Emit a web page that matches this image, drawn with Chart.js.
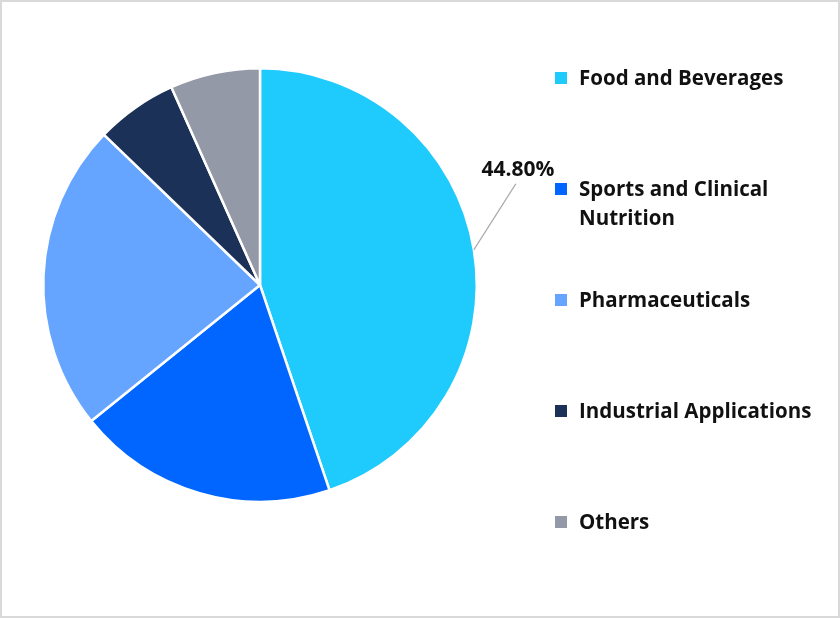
<!DOCTYPE html>
<html lang="en">
<head>
    <meta charset="UTF-8">
    <title>Market Share by Application</title>
    <script src="https://cdn.jsdelivr.net/npm/chart.js"></script>
    <style>
        html, body {
            margin: 0;
            padding: 0;
            background: #fff;
        }

        .frame {
            position: relative;
            width: 836px;
            height: 614px;
            border: 2px solid #d9d9d9;
            background: #fff;
            font-family: "Open Sans", Lato, sans-serif;
        }

        .pie-box {
            position: absolute;
            left: 0;
            top: 0;
            width: 836px;
            height: 614px;
        }

        .legend {
            position: absolute;
            left: 553px;
            top: 0;
            margin: 0;
            padding: 0;
            list-style: none;
        }

        .legend li {
            position: absolute;
            left: 0;
            width: 270px;
            font-size: 20.5px;
            font-weight: bold;
            line-height: 29px;
            color: #111;
            padding-left: 24px;
            white-space: nowrap;
        }

        .legend .swatch {
            position: absolute;
            left: 0;
            top: 9px;
            width: 12px;
            height: 12px;
        }
    </style>
</head>
<body>
    <div class="frame">
        <div class="pie-box"><canvas id="share-chart"></canvas></div>
        <ul class="legend" id="legend"></ul>
    </div>

    <script>
        // chart data
        const categories = ["Food and Beverages", "Sports and Clinical\nNutrition", "Pharmaceuticals", "Industrial Applications", "Others"];
        const shares = [44.8, 19.4, 23.0, 6.1, 6.7];
        const colors = ["#1fcbfc", "#0066ff", "#66a5ff", "#1c3157", "#9399a6"];
        const shownLabels = ["44.80%", null, null, null, null];

        // legend rows (top of each text block, px)
        const legendTops = [61, 172, 283, 394, 505];

        const legendEl = document.getElementById("legend");
        categories.forEach((name, i) => {
            const li = document.createElement("li");
            li.style.top = legendTops[i] + "px";
            li.innerHTML = `<span class="swatch" style="background:${colors[i]}"></span>` +
                name.split("\n").join("<br>");
            legendEl.appendChild(li);
        });

        // percentage label with leader line
        const leaderLabels = {
            id: "leaderLabels",
            afterDatasetsDraw(chart) {
                const ctx = chart.ctx;
                const meta = chart.getDatasetMeta(0);
                meta.data.forEach((arc, i) => {
                    if (!shownLabels[i]) return;
                    const mid = (arc.startAngle + arc.endAngle) / 2;
                    const r = arc.outerRadius;
                    const x0 = arc.x + Math.cos(mid) * r;
                    const y0 = arc.y + Math.sin(mid) * r;
                    const x1 = x0 + 42;
                    const y1 = y0 - 66;
                    ctx.save();
                    ctx.strokeStyle = "#a6a6a6";
                    ctx.lineWidth = 1.3;
                    ctx.beginPath();
                    ctx.moveTo(x0, y0);
                    ctx.lineTo(x1, y1);
                    ctx.stroke();
                    ctx.fillStyle = "#111";
                    ctx.font = "bold 21px 'Open Sans', Lato, sans-serif";
                    ctx.textAlign = "center";
                    ctx.textBaseline = "bottom";
                    ctx.fillText(shownLabels[i], x1 + 2, y1 - 3);
                    ctx.restore();
                });
            }
        };

        new Chart(document.getElementById("share-chart"), {
            type: "pie",
            data: {
                labels: categories,
                datasets: [{
                    data: shares,
                    backgroundColor: colors,
                    borderColor: "#ffffff",
                    borderWidth: 2.5
                }]
            },
            options: {
                responsive: true,
                maintainAspectRatio: false,
                animation: false,
                layout: {
                    padding: { left: 40, top: 65, right: 360, bottom: 113 }
                },
                plugins: {
                    legend: { display: false },
                    tooltip: { enabled: false }
                }
            },
            plugins: [leaderLabels]
        });
    </script>
</body>
</html>
